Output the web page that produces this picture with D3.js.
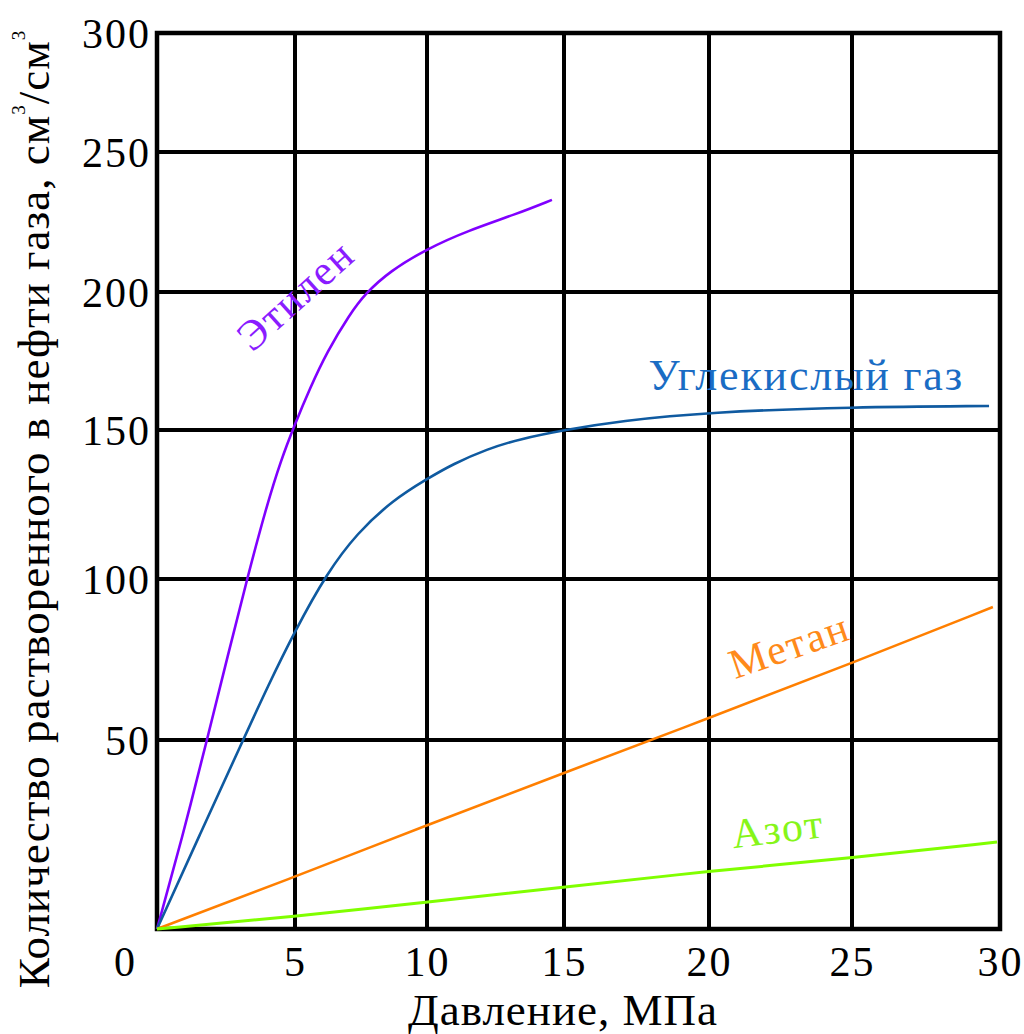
<!DOCTYPE html>
<html>
<head>
<meta charset="utf-8">
<script src="https://cdn.jsdelivr.net/npm/d3@7/dist/d3.min.js"></script>
<style>
    body { margin: 0; background: #fff; }
    svg text { font-family: 'Liberation Serif', 'Times New Roman', serif; }
</style>
</head>
<body>
<div id="chart"></div>
<script>
// axis ticks
var pressureTicks = [0, 5, 10, 15, 20, 25, 30];
var volumeTicks = [0, 50, 100, 150, 200, 250, 300];

// series (pressure, MPa -> dissolved gas, cm3/cm3)
var ethyleneP = [0, 0.91, 1.81, 2.57, 3.3, 3.95, 4.49, 5, 5.57, 6.21, 7.08, 7.65, 8.6, 10, 11.46, 13.28, 14.56];
var ethyleneV = [0, 24, 50, 76.4, 101.3, 123.8, 139.9, 152.2, 165.2, 178.3, 192, 199.3, 207.5, 215.4, 221.8, 227.9, 232.9];

var co2P = [0, 1.56, 3.12, 4.02, 5, 6.21, 7.35, 8.71, 10, 10.95, 12.19, 13.39, 15, 16.93, 20, 25, 29.63];
var co2V = [0, 25.1, 50, 66.8, 83.9, 102, 115.4, 126.5, 133.6, 138.6, 143.6, 147, 150, 153.3, 156.5, 158.3, 158.7];

var methaneP = [0, 5, 10, 15, 20, 25, 29.76];
var methaneV = [0, 13.8, 27.5, 41.3, 56.8, 73.9, 91.3];

var nitrogenP = [0, 5, 10, 15, 20, 25, 29.9];
var nitrogenV = [0, 3.3, 7.1, 11.1, 15.3, 18.8, 23];

var seriesNames = ['Этилен', 'Углекислый газ', 'Метан', 'Азот'];

var width = 1024;
var height = 1034;

// the scan's grid is not evenly spaced, so the scales are piecewise
var x = d3.scaleLinear()
    .domain(pressureTicks)
    .range([157, 295, 427, 564, 709, 852, 1000]);

var y = d3.scaleLinear()
    .domain(volumeTicks)
    .range([929, 740, 579, 430, 292, 152, 33]);

var svg = d3.select('#chart').append('svg')
    .attr('width', width)
    .attr('height', height);

// grid
svg.append('g')
    .selectAll('line')
    .data(pressureTicks.slice(1, -1))
    .enter()
    .append('line')
    .attr('x1', function (d) { return x(d); })
    .attr('x2', function (d) { return x(d); })
    .attr('y1', y(0))
    .attr('y2', y(300))
    .attr('stroke', '#000')
    .attr('stroke-width', 4);

svg.append('g')
    .selectAll('line')
    .data(volumeTicks.slice(1, -1))
    .enter()
    .append('line')
    .attr('x1', x(0))
    .attr('x2', x(30))
    .attr('y1', function (d) { return y(d); })
    .attr('y2', function (d) { return y(d); })
    .attr('stroke', '#000')
    .attr('stroke-width', 4);

svg.append('rect')
    .attr('x', x(0))
    .attr('y', y(300))
    .attr('width', x(30) - x(0))
    .attr('height', y(0) - y(300))
    .attr('fill', 'none')
    .attr('stroke', '#000')
    .attr('stroke-width', 4.5);

// tick labels
var yAxis = svg.append('g')
    .attr('transform', 'translate(' + (x(0) - 6) + ',0)')
    .call(d3.axisLeft(y).tickValues(volumeTicks.slice(1)).tickSize(0).tickPadding(0));

var xAxis = svg.append('g')
    .attr('transform', 'translate(0,' + (y(0) + 17) + ')')
    .call(d3.axisBottom(x).tickValues(pressureTicks).tickSize(0).tickPadding(0));

[yAxis, xAxis].forEach(function (g) {
    g.select('.domain').remove();
    g.selectAll('text')
        .attr('fill', '#000')
        .style('font-size', '42px')
        .style('letter-spacing', '2px');
});
yAxis.selectAll('text').attr('dy', '0.34em');
xAxis.selectAll('text').attr('dy', '0.71em');
// the corner zero sits left of the axis
xAxis.selectAll('.tick').filter(function (d) { return d === 0; })
    .select('text').attr('x', -32);

// curves
var line = d3.line()
    .x(function (d) { return x(d[0]); })
    .y(function (d) { return y(d[1]); })
    .curve(d3.curveBasis);

var series = [
    { p: ethyleneP, v: ethyleneV, color: '#8000ff', w: 2.6 },
    { p: co2P, v: co2V, color: '#0f5aa0', w: 2.6 },
    { p: methaneP, v: methaneV, color: '#ff7f00', w: 2.6 },
    { p: nitrogenP, v: nitrogenV, color: '#80ff00', w: 3 }
];

svg.append('g')
    .selectAll('path')
    .data(series)
    .enter()
    .append('path')
    .attr('fill', 'none')
    .attr('stroke', function (d) { return d.color; })
    .attr('stroke-width', function (d) { return d.w; })
    .attr('d', function (d) { return line(d3.zip(d.p, d.v)); });

// curve labels, anchored in data units
var labels = [
    { p: 5.0, v: 199, angle: -42, size: 42, color: '#8a1cff' },
    { p: 23.4, v: 170, angle: 0, size: 44, color: '#1a6cc4' },
    { p: 22.8, v: 79.5, angle: -19, size: 42, color: '#ff8a1a' },
    { p: 22.4, v: 26.7, angle: -7, size: 42, color: '#86f51a' }
];

svg.append('g')
    .selectAll('text')
    .data(labels)
    .enter()
    .append('text')
    .attr('transform', function (d) {
        return 'translate(' + x(d.p) + ',' + y(d.v) + ') rotate(' + d.angle + ')';
    })
    .attr('text-anchor', 'middle')
    .attr('dy', '0.35em')
    .attr('fill', function (d) { return d.color; })
    .style('font-size', function (d) { return d.size + 'px'; })
    .style('letter-spacing', '1.8px')
    .text(function (d, i) { return seriesNames[i]; });

// axis titles
svg.append('text')
    .attr('x', 563)
    .attr('y', 1025)
    .attr('text-anchor', 'middle')
    .style('font-size', '45px')
    .style('letter-spacing', '1px')
    .text('Давление, МПа');

var yTitle = svg.append('text')
    .attr('transform', 'translate(49,509) rotate(-90)')
    .attr('text-anchor', 'middle')
    .style('font-size', '45px')
    .style('letter-spacing', '1px');

yTitle.append('tspan').text('Количество растворенного в нефти газа, см');
yTitle.append('tspan').attr('dy', -24).style('font-size', '19px').text('3');
yTitle.append('tspan').attr('dy', 24).text('/см');
yTitle.append('tspan').attr('dy', -24).style('font-size', '19px').text('3');
</script>
</body>
</html>
